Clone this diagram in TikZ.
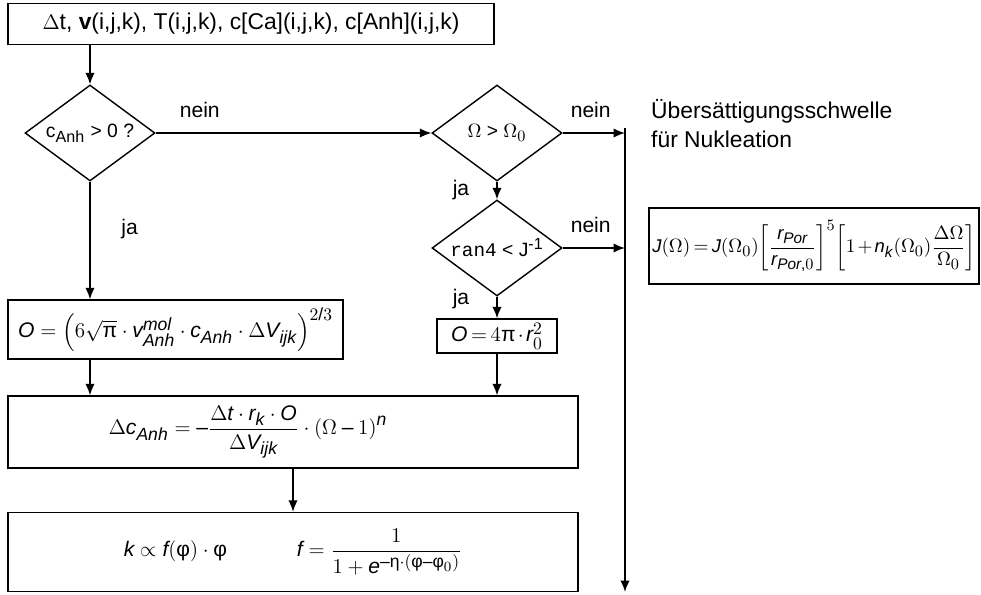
\documentclass[tikz,border=0pt]{standalone}
\usepackage{amsmath}
\usepackage{fontspec}
\setmainfont{Liberation Sans}
\setmonofont{Liberation Mono}
\usepackage[italic]{mathastext}
\usepackage{tikz}
\usetikzlibrary{positioning,shapes.geometric,arrows.meta,calc}

\newcommand{\tightmath}{\thinmuskip=2mu\medmuskip=2mu\thickmuskip=3mu}
\newcommand{\uphi}{\textnormal{φ}}
\newcommand{\ueta}{\textnormal{η}}
\newcommand{\upi}{\textnormal{π}}

\begin{document}
\begin{tikzpicture}[x=0.02cm, y=-0.02cm, font=\fontsize{12}{14}\selectfont,
  box/.style={draw, line width=0.8pt, inner sep=0pt},
  dia/.style={diamond, draw, line width=0.8pt, inner sep=0pt, aspect=1.35,
    minimum width=2.6cm, minimum height=1.92cm, font=\fontsize{11}{13}\selectfont},
  flow/.style={-{Latex[length=2.3mm,width=1.9mm]}, line width=1pt}]
\useasboundingbox (0,0) rectangle (981,595);

% Input box
\node[box, minimum width=9.72cm, minimum height=0.82cm, font=\fontsize{13}{15}\selectfont] (input) at (251,24)
  {$\Delta$t, \textbf{v}(i,j,k), T(i,j,k), c[Ca](i,j,k), c[Anh](i,j,k)};

% Decisions
\node[dia] (anh) at (90,133) {c\textsubscript{Anh} > 0 ?};
\node[dia] (omega) at (497,133) {$\Omega > \Omega_0$};
\node[dia] (ran) at (497,248) {\texttt{ran4} < J\textsuperscript{-1}};

% Surface boxes
\node[box, minimum width=6.7cm, minimum height=1.18cm] (surf) at (175.5,329.5)
  {$O=\left(6\sqrt{\upi}\cdot v_{Anh}^{mol}\cdot c_{Anh}\cdot\Delta V_{ijk}\right)^{2/3}$};
\node[box, minimum width=2.4cm, minimum height=0.68cm, inner sep=2pt] (nucl) at (497,336)
  {\tightmath$O=4\upi\cdot r_0^2$};

% Concentration change
\node[box, minimum width=11.4cm, minimum height=1.44cm] (dc) at (293,432)
  {$\Delta c_{Anh}=-\dfrac{\Delta t\cdot r_k\cdot O}{\Delta V_{ijk}}\cdot\left(\Omega-1\right)^n$\hspace*{1.8cm}};

% Permeability
\node[box, minimum width=11.4cm, minimum height=1.58cm] (perm) at (293,552)
  {$k\propto f(\uphi)\cdot\uphi$\hspace{1.4cm}$f=\dfrac{1}{1+e^{-\ueta\cdot(\uphi-\uphi_0)}}$};

% Nucleation rate
\node[box, minimum width=6.6cm, minimum height=1.52cm, font=\fontsize{10.5}{12}\selectfont] (rate) at (814,246)
  {\tightmath$J\!\left(\Omega\right)=J\!\left(\Omega_0\right)\!\left[\dfrac{r_{Por}}{r_{Por,0}}\right]^5\!
   \left[1+n_k\!\left(\Omega_0\right)\!\dfrac{\Delta\Omega}{\Omega_0}\right]$};

\node[anchor=north west, align=left, font=\fontsize{13}{16.5}\selectfont] (note) at (645,93)
  {Übersättigungsschwelle\\für Nukleation};

% Bypass line
\coordinate (vtop) at (625,128);
\coordinate (vbot) at (625,592);
\draw[flow] (vtop) -- (vbot);

% Connectors
\draw[flow] (input.south -| anh) -- (anh.north);
\draw[flow] (anh.east) -- node[pos=0.16, above=5pt] {nein} (omega.west);
\draw[flow] (anh.south) -- node[right=14pt, pos=0.4] {ja} (surf.north -| anh);
\draw[flow] (surf.south -| anh) -- (dc.north -| anh);
\draw[flow] (omega.east) -- node[pos=0.45, above=5pt] {nein} (omega.east -| vtop);
\draw[flow] (omega.south) -- node[left=12pt, pos=0.5] {ja} (ran.north);
\draw[flow] (ran.east) -- node[pos=0.45, above=5pt] {nein} (ran.east -| vtop);
\draw[flow] (ran.south) -- node[left=12pt, pos=0.1] {ja} (nucl.north);
\draw[flow] (nucl.south) -- (dc.north -| nucl);
\draw[flow] (dc.south) -- (perm.north);

\end{tikzpicture}
\end{document}
